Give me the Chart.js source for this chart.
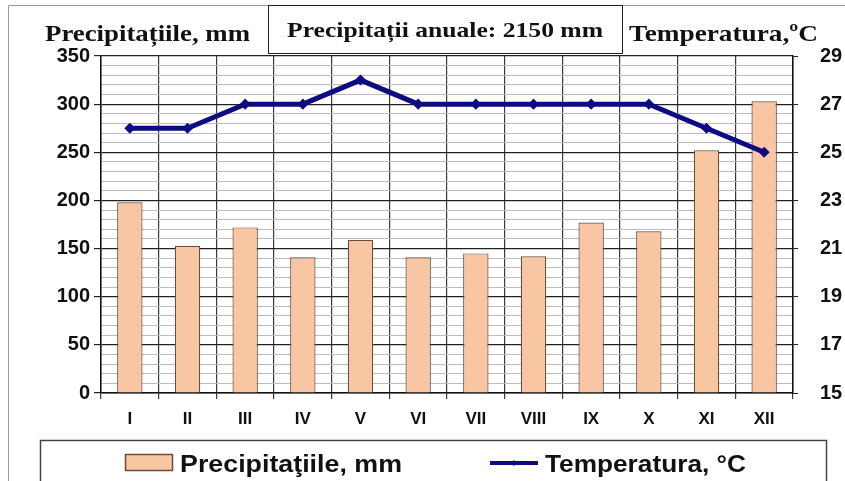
<!DOCTYPE html>
<html>
<head>
<meta charset="utf-8">
<script src="https://cdn.jsdelivr.net/npm/chart.js@4.4.1/dist/chart.umd.min.js"></script>
<style>
  html, body { margin: 0; padding: 0; background: #fff; }
  #wrap { width: 845px; height: 481px; position: relative; }
</style>
</head>
<body>
<div id="wrap"><canvas id="climaChart" width="845" height="481"></canvas></div>
<script>
// ---- date ----
const luni = ['I', 'II', 'III', 'IV', 'V', 'VI', 'VII', 'VIII', 'IX', 'X', 'XI', 'XII'];
const precipitatii = [198, 153, 172, 141, 159, 141, 145, 142, 177, 168, 252, 303];
const temperatura = [26, 26, 27, 27, 28, 27, 27, 27, 27, 27, 26, 25];
const titluAnual = 'Precipitații anuale: 2150 mm';
const titluStanga = 'Precipitațiile, mm';
const titluDreapta = 'Temperatura,ºC';
const legendaPrec = 'Precipitaţiile, mm';
const legendaTemp = 'Temperatura, °C';

const culoareBara = '#f8c6a2';
const chenarBara = '#6e4c3a';
const culoareLinie = '#0c0c80';

// text intins pe orizontala pana la latimea dorita
function textLat(c, text, x, y, latime) {
    const w = c.measureText(text).width;
    c.save();
    c.translate(x, y);
    c.scale(latime / w, 1);
    c.fillText(text, 0, 0);
    c.restore();
}

// fundal, chenare, titluri si legenda desenate pe canvas
const decorPlugin = {
    id: 'decor',
    beforeDraw(chart) {
        const c = chart.ctx;
        c.save();
        c.fillStyle = '#fff';
        c.fillRect(0, 0, chart.width, chart.height);
        c.restore();
    },
    afterDraw(chart) {
        const c = chart.ctx;
        c.save();
        // chenarul exterior
        c.strokeStyle = '#9a9a9a';
        c.lineWidth = 1;
        c.beginPath();
        c.moveTo(8.5, 481);
        c.lineTo(8.5, 5.5);
        c.lineTo(845, 5.5);
        c.stroke();

        // caseta cu totalul anual
        c.strokeStyle = '#222';
        c.fillStyle = '#fff';
        c.fillRect(268, 5, 354, 48);
        c.strokeRect(268.5, 5.5, 354, 48);
        c.fillStyle = '#111';
        c.font = 'bold 21px "Liberation Serif", "DejaVu Serif", serif';
        c.textAlign = 'left';
        c.textBaseline = 'alphabetic';
        textLat(c, titluAnual, 287, 37, 316);

        // titlurile axelor
        c.font = 'bold 24px "Liberation Serif", "DejaVu Serif", serif';
        textLat(c, titluStanga, 45, 41, 205);
        textLat(c, titluDreapta, 629, 41, 189);

        // legenda
        const prec = chart.data.datasets.find(d => d.type === 'bar');
        const temp = chart.data.datasets.find(d => d.type === 'line');
        c.strokeStyle = '#444';
        c.lineWidth = 1.5;
        c.strokeRect(40.5, 440.5, 786, 60);
        c.fillStyle = prec.backgroundColor;
        c.fillRect(125, 454, 47, 16);
        c.strokeStyle = prec.borderColor;
        c.lineWidth = 1.5;
        c.strokeRect(125.5, 454.5, 47, 16);
        c.strokeStyle = temp.borderColor;
        c.lineWidth = 4;
        c.beginPath();
        c.moveTo(490, 463);
        c.lineTo(538, 463);
        c.stroke();
        c.fillStyle = temp.borderColor;
        c.beginPath();
        c.moveTo(514, 460); c.lineTo(517, 463); c.lineTo(514, 466); c.lineTo(511, 463);
        c.fill();
        c.fillStyle = '#111';
        c.font = 'bold 24px "Liberation Sans", Arial, sans-serif';
        textLat(c, prec.label, 180, 472, 222);
        textLat(c, temp.label, 545, 472, 201);
        c.restore();
    }
};

const ctx = document.getElementById('climaChart').getContext('2d');
new Chart(ctx, {
    data: {
        labels: luni,
        datasets: [
            {
                type: 'line',
                label: legendaTemp,
                data: temperatura,
                yAxisID: 'yT',
                borderColor: culoareLinie,
                backgroundColor: culoareLinie,
                borderWidth: 5,
                pointStyle: 'rectRot',
                pointRadius: 2,
                pointHoverRadius: 2,
                tension: 0,
                order: 0
            },
            {
                type: 'bar',
                label: legendaPrec,
                data: precipitatii,
                yAxisID: 'yP',
                backgroundColor: culoareBara,
                borderColor: chenarBara,
                borderWidth: 1.2,
                categoryPercentage: 1,
                barPercentage: 0.44,
                order: 1
            }
        ]
    },
    options: {
        responsive: false,
        animation: false,
        layout: { padding: { top: 56, left: 0, right: 0, bottom: 0 } },
        plugins: {
            legend: { display: false },
            tooltip: { enabled: false }
        },
        scales: {
            x: {
                offset: true,
                grid: {
                    offset: true,
                    color: '#3a3a3a',
                    lineWidth: 1.2,
                    tickLength: 6,
                    tickColor: '#3a3a3a'
                },
                border: { color: '#111', width: 1.5 },
                ticks: {
                    color: '#111',
                    padding: 10,
                    font: { family: '"Liberation Sans", Arial, sans-serif', size: 17, weight: 'bold' }
                },
                afterFit(scale) { scale.height = 88; }
            },
            yP: {
                position: 'left',
                min: 0,
                max: 350,
                ticks: {
                    stepSize: 10,
                    autoSkip: false,
                    padding: 4,
                    color: '#111',
                    font: { family: '"Liberation Sans", Arial, sans-serif', size: 20, weight: 'bold' },
                    callback: v => (v % 50 === 0 ? String(v) : '')
                },
                grid: {
                    color: c => (c.tick && c.tick.value % 50 === 0 ? '#222' : '#bdbdbd'),
                    lineWidth: c => (c.tick && c.tick.value % 50 === 0 ? 1.2 : 1),
                    tickColor: c => (c.tick && c.tick.value % 50 === 0 ? '#222' : 'rgba(0,0,0,0)'),
                    tickLength: 7
                },
                border: { color: '#111', width: 1.5 },
                afterFit(scale) { scale.width = 101; }
            },
            yT: {
                position: 'right',
                min: 15,
                max: 29,
                ticks: {
                    stepSize: 2,
                    padding: 22,
                    color: '#111',
                    font: { family: '"Liberation Sans", Arial, sans-serif', size: 20, weight: 'bold' }
                },
                grid: { drawOnChartArea: false, tickLength: 5, tickColor: '#222' },
                border: { color: '#111', width: 1.5 },
                afterFit(scale) { scale.width = 52; }
            }
        }
    },
    plugins: [decorPlugin]
});
</script>
</body>
</html>
